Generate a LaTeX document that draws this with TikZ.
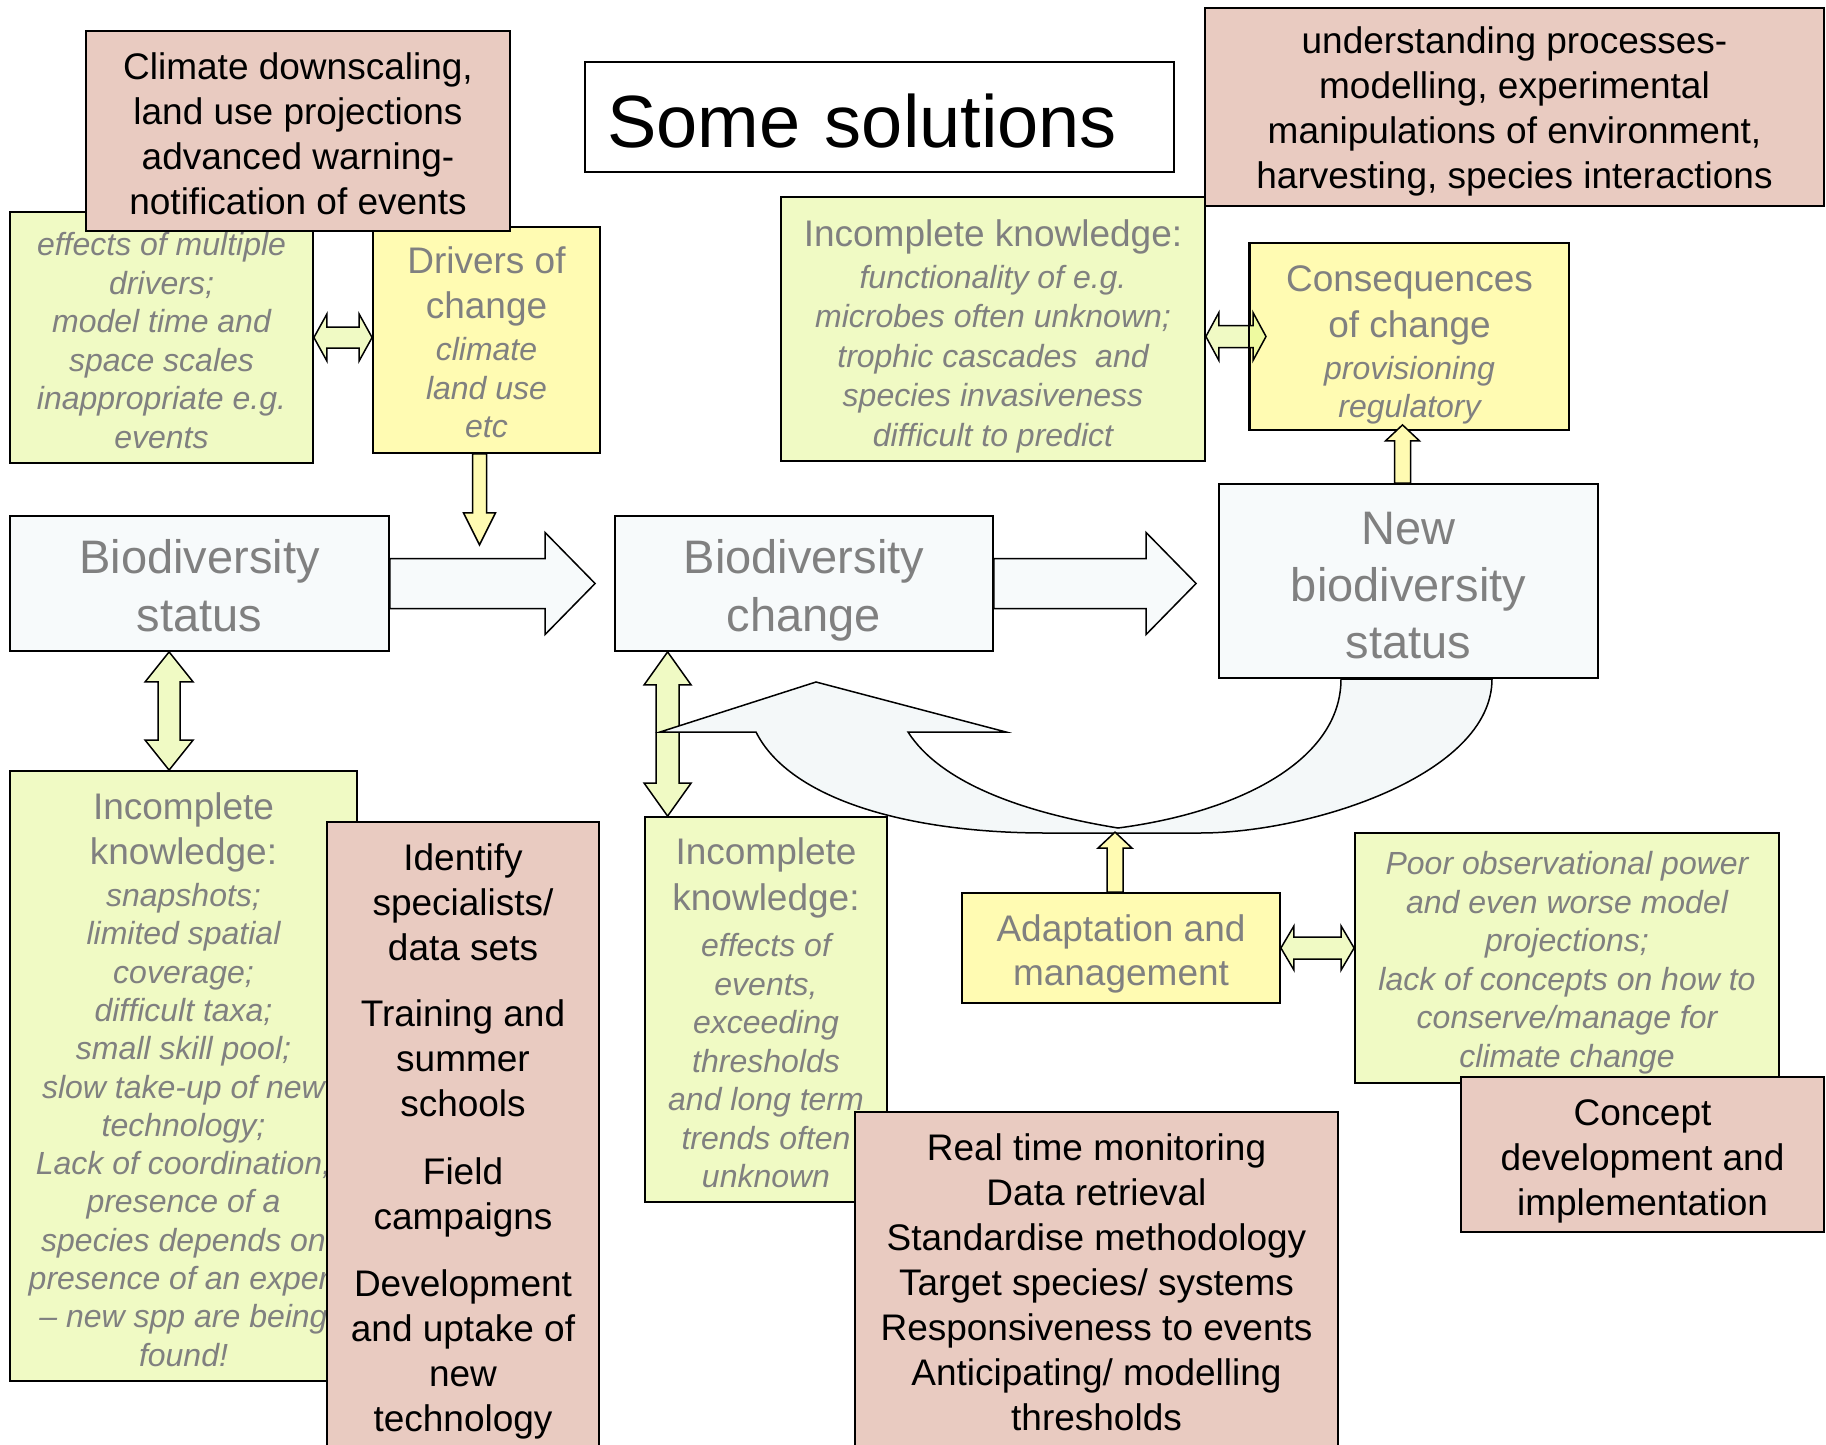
\documentclass[tikz,border=0pt]{standalone}
\usepackage{fontspec}
\setmainfont{Liberation Sans}
\usetikzlibrary{calc}
\definecolor{gfill}{RGB}{240,250,196}
\definecolor{yfill}{RGB}{255,251,178}
\definecolor{pfill}{RGB}{233,203,193}
\definecolor{bfill}{RGB}{247,250,251}
\definecolor{cfill}{RGB}{244,248,249}
\definecolor{gtext}{RGB}{128,128,128}
\definecolor{mixfill}{RGB}{238,250,160}
\newcommand\szreg{\fontsize{37}{45}\selectfont\upshape}
\newcommand\szit{\fontsize{32}{38.5}\selectfont\itshape}
\newcommand\szitb{\fontsize{32}{39.5}\selectfont\itshape}
\newcommand\szitc{\fontsize{32}{38.3}\selectfont\itshape}
\newcommand\szbig{\fontsize{47}{58}\selectfont}
\newcommand\sztitle{\fontsize{74}{88}\selectfont}
\newcommand\padtop[1]{\rule{0pt}{#1}}
% horizontal double block arrow: style, left tip, right tip, shaft half, head half, head length
\newcommand\dblH[6]{\draw[#1] let \p1=(#2), \p2=(#3) in
  (\x1,\y1) -- (\x1+#6,\y1+#5) -- (\x1+#6,\y1+#4) -- (\x2-#6,\y1+#4) -- (\x2-#6,\y1+#5) -- (\x2,\y1)
  -- (\x2-#6,\y1-#5) -- (\x2-#6,\y1-#4) -- (\x1+#6,\y1-#4) -- (\x1+#6,\y1-#5) -- cycle;}
% vertical double block arrow: style, top tip, bottom tip, shaft half, head half, head length
\newcommand\dblV[6]{\draw[#1] let \p1=(#2), \p2=(#3) in
  (\x1,\y1) -- (\x1+#5,\y1-#6) -- (\x1+#4,\y1-#6) -- (\x1+#4,\y2+#6) -- (\x1+#5,\y2+#6) -- (\x1,\y2)
  -- (\x1-#5,\y2+#6) -- (\x1-#4,\y2+#6) -- (\x1-#4,\y1-#6) -- (\x1-#5,\y1-#6) -- cycle;}
% single block arrows: style, tail, tip, shaft half, head half, head length
\newcommand\arrDown[6]{\draw[#1] let \p1=(#2), \p2=(#3) in
  (\x1-#4,\y1) -- (\x1-#4,\y2+#6) -- (\x1-#5,\y2+#6) -- (\x1,\y2) -- (\x1+#5,\y2+#6) -- (\x1+#4,\y2+#6) -- (\x1+#4,\y1) -- cycle;}
\newcommand\arrUp[6]{\draw[#1] let \p1=(#2), \p2=(#3) in
  (\x1-#4,\y1) -- (\x1-#4,\y2-#6) -- (\x1-#5,\y2-#6) -- (\x1,\y2) -- (\x1+#5,\y2-#6) -- (\x1+#4,\y2-#6) -- (\x1+#4,\y1) -- cycle;}
\newcommand\arrRight[6]{\draw[#1] let \p1=(#2), \p2=(#3) in
  (\x1,\y1+#4) -- (\x2-#6,\y1+#4) -- (\x2-#6,\y1+#5) -- (\x2,\y1) -- (\x2-#6,\y1-#5) -- (\x2-#6,\y1-#4) -- (\x1,\y1-#4) -- cycle;}
\begin{document}
\begin{tikzpicture}[x=1pt,y=-1pt,
  boxbase/.style={draw=black,line width=1.8pt,inner sep=0pt,align=center},
  greenbox/.style={boxbase,fill=gfill,text=gtext},
  yellowbox/.style={boxbase,fill=yfill,text=gtext},
  pinkbox/.style={boxbase,fill=pfill,text=black,font=\szreg},
  bluebox/.style={boxbase,fill=bfill,text=gtext,font=\szbig},
  arr/.style={draw=black,line width=1.5pt,line join=miter},
  garr/.style={arr,fill=gfill},
  yarr/.style={arr,fill=yfill},
  bluearr/.style={arr,fill=bfill},
  curvarr/.style={arr,fill=cfill}]
\useasboundingbox (0,0) rectangle (1826,1445);
\fill[white] (0,0) rectangle (1826,1445);
\clip (0,0) rectangle (1826,1445);

% ---- top left
\node[greenbox,minimum width=303pt,minimum height=251pt,font=\szit] (gtl) at (161.5,337.5)
  {\padtop{29.4pt}effects of multiple\\drivers;\\model time and\\space scales\\inappropriate e.g.\\events};
\node[yellowbox,minimum width=227pt,minimum height=226pt,font=\szit] (drivers) at (486.5,340)
  {{\szreg\padtop{32pt}Drivers of}\\[6.5pt]{\szreg change}\\[3.5pt]climate\\land use\\etc};
\dblH{garr}{gtl.east}{drivers.west |- gtl.east}{10.5pt}{23.5pt}{13pt}
\node[pinkbox,minimum width=424pt,minimum height=200pt] (climate) at (298,131)
  {\padtop{31.6pt}Climate downscaling,\\land use projections\\advanced warning-\\notification of events};

% ---- title
\node[boxbase,fill=white,minimum width=589pt,minimum height=110pt,text width=545pt,
  align=left,inner xsep=22pt,font=\sztitle] (title) at (879.5,117) {\padtop{61pt}Some solutions};

% ---- top centre / right
\node[greenbox,minimum width=424pt,minimum height=264pt,font=\szitb] (iktop) at (993,329)
  {{\szreg\padtop{41pt}Incomplete knowledge:}\\[2.5pt]functionality of e.g.\\microbes often unknown;\\trophic cascades \ and\\species invasiveness\\difficult to predict};
\coordinate (ctip) at (1266,336.5);
\dblH{garr}{iktop.east |- ctip}{ctip}{11pt}{24pt}{13pt}
\node[yellowbox,minimum width=319pt,minimum height=187pt,font=\szit] (conseq) at (1409.5,336.5)
  {{\szreg\padtop{43pt}Consequences}\\[7.5pt]{\szreg of change}\\[3.5pt]provisioning\\regulatory};
\begin{scope}
  \clip (conseq.south west) rectangle (conseq.north east);
  \dblH{arr,fill=mixfill}{iktop.east |- ctip}{ctip}{11pt}{24pt}{13pt}
\end{scope}
\draw[line width=1.8pt] (conseq.north west) -- (conseq.south west);
\node[pinkbox,minimum width=619pt,minimum height=198pt] (tr) at (1514.5,107)
  {\padtop{36.4pt}understanding processes-\\modelling, experimental\\manipulations of environment,\\harvesting, species interactions};

% ---- middle row
\node[bluebox,minimum width=379pt,minimum height=135pt] (bstat) at (199.5,583.5) {\padtop{38pt}Biodiversity\\status};
\node[bluebox,minimum width=378pt,minimum height=135pt] (bchange) at (804,583.5) {\padtop{48pt}Biodiversity\\change};
\node[bluebox,minimum width=379pt,minimum height=194pt,font=\fontsize{47}{57}\selectfont] (newbio) at (1408.5,581)
  {\padtop{42pt}New\\biodiversity\\status};
\arrRight{bluearr}{bstat.east}{$(bchange.west)+(-19,0)$}{25pt}{51pt}{50pt}
\arrRight{bluearr}{bchange.east}{$(newbio.west)+(-22,0)$}{25pt}{51pt}{50pt}
\arrDown{yarr}{$(drivers.south)+(-7,0)$}{$(drivers.south)+(-7,91)$}{7pt}{16pt}{32pt}
\arrUp{yarr}{$(newbio.north)+(-6,0)$}{$(conseq.south)+(-7.5,-6)$}{8pt}{17pt}{16pt}

% ---- lower boxes
\node[greenbox,minimum width=347pt,minimum height=610pt,font=\szitc] (gbl) at (183.5,1076)
  {{\szreg\padtop{34pt}Incomplete}\\[6.7pt]{\szreg knowledge:}\\[3.7pt]snapshots;\\limited spatial\\coverage;\\difficult taxa;\\small skill pool;\\slow take-up of new\\technology;\\Lack of coordination;\\presence of a\\species depends on\\presence of an expert\\\textendash{} new spp are being\\found!};
\node[greenbox,minimum width=242pt,minimum height=385pt,font=\szit] (gctr) at (766,1009.5)
  {{\szreg\padtop{34pt}Incomplete}\\[7.5pt]{\szreg knowledge:}\\[7.5pt]effects of\\events,\\exceeding\\thresholds\\and long term\\trends often\\unknown};
\node[yellowbox,minimum width=318pt,minimum height=110pt,font=\fontsize{37}{44}\selectfont] (adapt) at (1121,948)
  {\padtop{39pt}Adaptation and\\management};
\node[greenbox,minimum width=424pt,minimum height=250pt,font=\szit] (gright) at (1567,958)
  {\padtop{33pt}Poor observational power\\and even worse model\\projections;\\lack of concepts on how to\\conserve/manage for\\climate change};

\dblV{garr}{$(bstat.south west)+(160,0)$}{$(gbl.north west)+(160,0)$}{11pt}{24pt}{30pt}
\dblV{garr}{$(bchange.south west)+(53.5,0)$}{$(gctr.north west)+(23.5,0)$}{11.5pt}{23.5pt}{33pt}

% ---- curved feedback arrow
\draw[curvarr] (660,732) -- (816,682) -- (1006,732) -- (908,732)
  .. controls (940,782) and (1020,812) .. (1118,828)
  .. controls (1240,812) and (1341,760) .. (1341,679)
  -- (1492,679)
  .. controls (1492,775) and (1310,833) .. (1200,833)
  -- (1046,833)
  .. controls (910,833) and (790,800) .. (756,732) -- cycle;

\arrUp{yarr}{$(adapt.north)+(-6,0)$}{$(adapt.north)+(-6,-60)$}{8pt}{17pt}{16pt}
\dblH{garr}{adapt.east}{gright.west |- adapt.east}{11pt}{22pt}{13pt}

% ---- solutions (pink) on top
\node[pinkbox,minimum width=272pt,minimum height=638pt] (identify) at (463,1141)
  {Identify\\specialists/\\data sets\\[21pt]Training and\\summer\\schools\\[23pt]Field\\campaigns\\[22pt]Development\\and uptake of\\new\\technology};
\node[pinkbox,minimum width=483pt,minimum height=340pt] (realtime) at (1096.5,1282)
  {Real time monitoring\\Data retrieval\\Standardise methodology\\Target species/ systems\\Responsiveness to events\\Anticipating/ modelling\\thresholds};
\node[pinkbox,minimum width=363pt,minimum height=155pt] (concept) at (1642.5,1154.5)
  {\padtop{40pt}Concept\\development and\\implementation};
\end{tikzpicture}
\end{document}
